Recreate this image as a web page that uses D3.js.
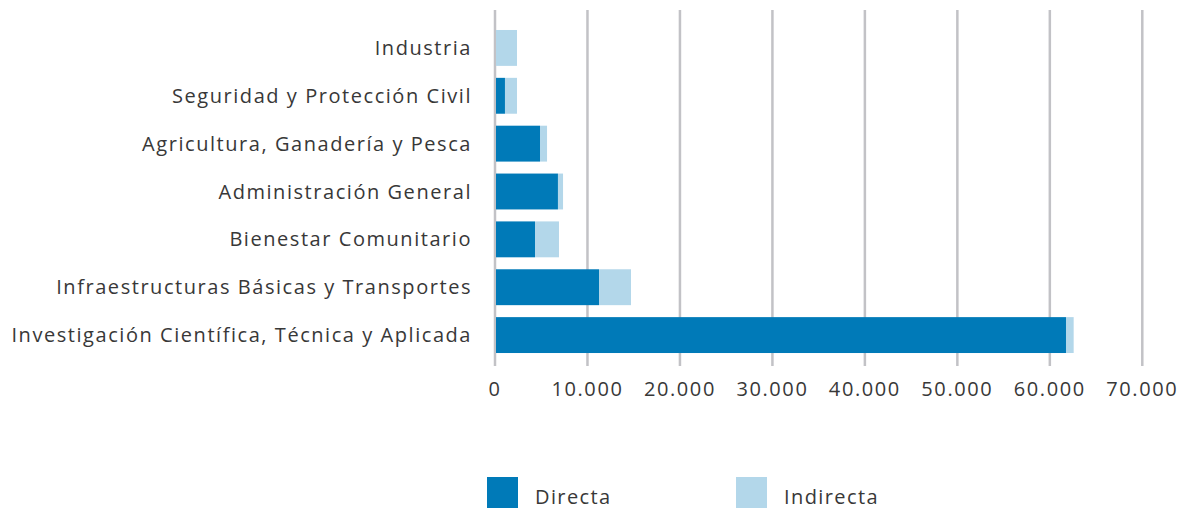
<!DOCTYPE html>
<html>
<head>
<meta charset="utf-8">
<script src="https://cdn.jsdelivr.net/npm/d3@7"></script>
<style>
  body { margin: 0; background: #fff; }
  svg text { font-family: 'Open Sans', sans-serif; fill: #383838; }
</style>
</head>
<body>
<svg id="chart" width="1182" height="510"></svg>
<script>
const categories = [
  'Industria',
  'Seguridad y Protección Civil',
  'Agricultura, Ganadería y Pesca',
  'Administración General',
  'Bienestar Comunitario',
  'Infraestructuras Básicas y Transportes',
  'Investigación Científica, Técnica y Aplicada'
]
const directa = [0, 970, 4760, 6700, 4220, 11140, 61640]
const indirecta = [2270, 1300, 760, 550, 2590, 3460, 830]
const seriesNames = ['Directa', 'Indirecta']
const tickValues = [0, 10000, 20000, 30000, 40000, 50000, 60000, 70000]

const colors = ['#007ab8', '#b3d7ea']

const svg = d3.select('svg#chart')

const x = d3.scaleLinear()
  .domain([0, 70000])
  .range([495, 1142.3])

const y = d3.scaleBand()
  .domain(categories)
  .range([24, 359])
  .paddingInner(0.25)
  .paddingOuter(0.125)

const fmt = d3.formatLocale({ decimal: ',', thousands: '.', grouping: [3], currency: ['', '€'] }).format(',')

// gridlines
svg.append('g')
  .selectAll('line')
  .data(tickValues)
  .join('line')
  .attr('x1', d => x(d))
  .attr('x2', d => x(d))
  .attr('y1', 10)
  .attr('y2', 366)
  .attr('stroke', '#c2c2c6')
  .attr('stroke-width', 2.5)

const rows = categories.map((c, i) => ({ cat: c, values: [directa[i], indirecta[i]] }))
const stacked = d3.stack().keys([0, 1]).value((d, k) => d.values[k])(rows)

svg.append('g')
  .selectAll('g')
  .data(stacked)
  .join('g')
  .attr('fill', (d, i) => colors[i])
  .selectAll('rect')
  .data(d => d)
  .join('rect')
  .attr('x', d => x(d[0]) + 1)
  .attr('y', d => y(d.data.cat))
  .attr('width', d => Math.max(0, x(d[1]) - x(d[0])))
  .attr('height', y.bandwidth())

// category labels
svg.append('g')
  .selectAll('text')
  .data(categories)
  .join('text')
  .attr('x', 472)
  .attr('y', d => y(d) + y.bandwidth() / 2)
  .attr('dy', '0.35em')
  .attr('text-anchor', 'end')
  .style('font-size', '20px')
  .style('letter-spacing', '1.55px')
  .text(d => d)

// x tick labels
svg.append('g')
  .selectAll('text')
  .data(tickValues)
  .join('text')
  .attr('x', d => x(d))
  .attr('y', 389)
  .attr('dy', '0.35em')
  .attr('text-anchor', 'middle')
  .style('font-size', '20px')
  .style('letter-spacing', '1.6px')
  .text(d => fmt(d))

// legend
const legend = svg.append('g')
  .selectAll('g')
  .data(seriesNames)
  .join('g')
  .attr('transform', (d, i) => `translate(${487 + i * 249},477)`)

legend.append('rect')
  .attr('width', 31)
  .attr('height', 31)
  .attr('fill', (d, i) => colors[i])

legend.append('text')
  .attr('x', 48)
  .attr('y', 27)
  .style('font-size', '20px')
  .style('letter-spacing', '1.4px')
  .text(d => d)
</script>
</body>
</html>
